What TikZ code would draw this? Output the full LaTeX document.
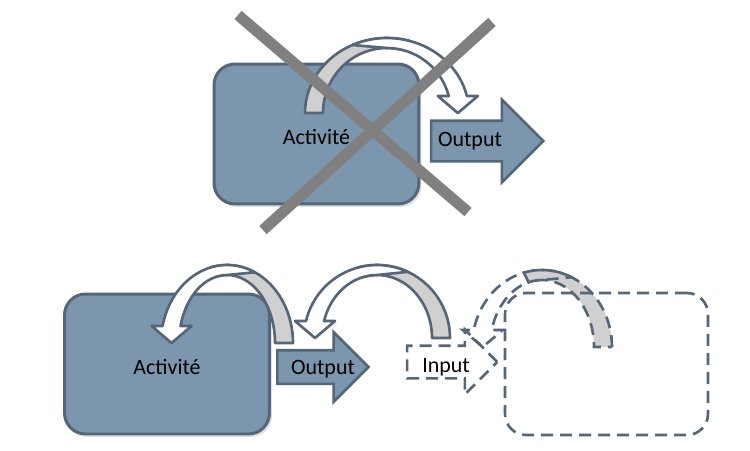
\documentclass[tikz,border=0pt]{standalone}
\usepackage{fontspec}
\setmainfont{Carlito}
\usepackage{tikz}
\usetikzlibrary{shapes.arrows,shadows}
\usepackage{xcolor}
\definecolor{dfslate}{RGB}{84,102,120}
\definecolor{dfbox}{RGB}{124,150,173}
\definecolor{dfback}{RGB}{208,208,208}
\definecolor{dfcross}{RGB}{128,128,128}
\tikzstyle{activity} = [rectangle, rounded corners=0.42cm, minimum width=4.1cm, minimum height=2.8cm, text centered, text height=0.42cm, draw=dfslate, fill=dfbox, line width=1.7pt, drop shadow={shadow xshift=0.05cm, shadow yshift=-0.06cm, opacity=0.25}]
\tikzstyle{outarrow} = [single arrow, single arrow head extend=0.36cm, inner xsep=0pt, inner ysep=0.31cm, minimum height=1.82cm, draw=dfslate, fill=dfbox, line width=1.5pt]
\tikzstyle{ghost} = [dash pattern=on 0.24cm off 0.14cm, draw=dfslate, line width=1.5pt]
\tikzstyle{ghostbox} = [ghost, rectangle, rounded corners=0.42cm, minimum width=4.06cm, minimum height=2.84cm]
\tikzstyle{arcback} = [draw=dfslate, fill=dfback, line width=1.5pt, line join=round]
\tikzstyle{arcface} = [draw=dfslate, fill=white, line width=1.5pt, line join=round]
\tikzstyle{crossline} = [line width=0.22cm, draw=dfcross]

% curved block arrow: centre x, base y, outer x radius, outer y radius, scope options
\newcommand{\bentarrow}[5]{%
  \begin{scope}[shift={(#1,#2)},#5]
    \pgfmathsetmacro\bRo{#3}
    \pgfmathsetmacro\bHo{#4}
    \pgfmathsetmacro\bRi{#3-18}
    \pgfmathsetmacro\bHi{#4-10}
    \pgfmathsetmacro\bAo{360-asin(17/\bHo)}
    \pgfmathsetmacro\bAi{360-asin(17/\bHi)}
    \pgfmathsetmacro\bXo{\bRo*cos(\bAo)}
    \pgfmathsetmacro\bXi{\bRi*cos(\bAi)}
    \draw[arcback] (-\bRo,0) arc[start angle=180, end angle=285, x radius=\bRo, y radius=\bHo]
      -- ({\bRi*cos(285)},{\bHi*sin(285)}) arc[start angle=285, end angle=180, x radius=\bRi, y radius=\bHi] -- cycle;
    \draw[arcface] ({\bRo*cos(245)},{\bHo*sin(245)}) arc[start angle=245, end angle=\bAo, x radius=\bRo, y radius=\bHo]
      -- ++(11,0) -- ({(\bXo+\bXi)/2},0) -- ({\bXi-11},-17) -- (\bXi,-17)
      arc[start angle=\bAi, end angle=270, x radius=\bRi, y radius=\bHi] -- cycle;
  \end{scope}}

\begin{document}
\begin{tikzpicture}[x=0.02cm, y=-0.02cm, font=\fontsize{12.5}{15}\selectfont]
\useasboundingbox (0,0) rectangle (750,450);

% Top: activity looping on itself, crossed out
\node[activity] (act1) at (316.5,134) {Activité};
\bentarrow{387}{113}{82}{75}{}
\node[outarrow, inner ysep=0.38cm, minimum height=2.24cm, single arrow head extend=0.42cm, label={[xshift=-0.14cm]center:Output}] (out1) at (477,141) {};
\draw[crossline] (238,15) -- (468,212);
\draw[crossline] (492,22) -- (263,230);

% Bottom: output handed on to the next activity
\node[activity] (act2) at (167,364) {Activité};
\node[outarrow, label={[xshift=0.17cm, yshift=-0.04cm]center:Output}] (out2) at (314.5,367) {};
\bentarrow{227}{343}{66}{78}{xscale=-1}
\bentarrow{377}{338}{73}{73}{xscale=-1}

% Next activity, still to come
\bentarrow{542}{347}{70}{77}{xscale=-1, arcback/.style={ghost, fill=dfback}, arcface/.style={ghost}}
\node[ghostbox] (act3) at (606.5,364) {};
\node[outarrow, ghost, fill=none, inner ysep=0.3cm, minimum height=1.8cm, single arrow head extend=0.32cm, label={[xshift=0.04cm, yshift=-0.1cm]center:Input}] (in3) at (444,362) {};
\end{tikzpicture}
\end{document}
